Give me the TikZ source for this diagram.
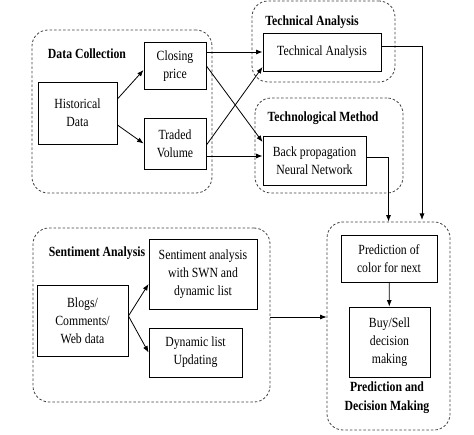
\documentclass[tikz,border=0pt]{standalone}
\usepackage{fontspec}
\setmainfont[FakeStretch=0.84]{Liberation Serif}
\usetikzlibrary{arrows.meta}
\begin{document}
\begin{tikzpicture}[x=1pt,y=-1pt,
  font=\fontsize{14}{18}\selectfont,
  box/.style={draw=black,line width=0.9pt,align=center,inner sep=1pt},
  grp/.style={draw=black!75,dash pattern=on 2.5pt off 2pt,line width=0.8pt,rounded corners=16pt},
  lbl/.style={font=\fontsize{14}{18.5}\selectfont\bfseries,align=center,inner sep=0pt},
  conn/.style={draw=black,line width=0.8pt,-{Latex[length=6.5pt,width=5pt]}}]
\useasboundingbox (0,0) rectangle (474,435);
% groups
\node[grp,minimum width=180pt,minimum height=163pt] (dcg) at (122,111.5) {};
\node[grp,minimum width=143pt,minimum height=81pt] (tag) at (323.5,41.5) {};
\node[grp,minimum width=148pt,minimum height=95pt] (tmg) at (329,145.5) {};
\node[grp,minimum width=237pt,minimum height=174pt] (sag) at (151.5,315) {};
\node[grp,minimum width=123pt,minimum height=208pt] (pdg) at (388.5,326) {};
% labels
\node[lbl] (dcl) at (87,54) {Data Collection};
\node[lbl] (tal) at (312,22) {Technical Analysis};
\node[lbl] (tml) at (323,118) {Technological Method};
\node[lbl] (sal) at (97,253) {Sentiment Analysis};
\node[lbl] (pdl) at (387,397.5) {Prediction and\\Decision Making};
% boxes
\node[box,minimum width=79pt,minimum height=62pt] (hist) at (77.5,113) {Historical\\Data};
\node[box,minimum width=62pt,minimum height=47pt] (close) at (175,66) {Closing\\price};
\node[box,minimum width=62pt,minimum height=51pt] (traded) at (175,143.5) {Traded\\Volume};
\node[box,minimum width=118pt,minimum height=38pt] (ta) at (322,52) {Technical Analysis};
\node[box,minimum width=103pt,minimum height=49pt] (bpnn) at (314.5,160.5) {Back propagation\\Neural Network};
\node[box,minimum width=96pt,minimum height=47pt] (pred) at (389,258.5) {Prediction of\\color for next};
\node[box,minimum width=81pt,minimum height=70pt] (buy) at (389.5,342) {Buy/Sell\\decision\\making};
\node[box,minimum width=108pt,minimum height=70pt] (swn) at (203,274) {Sentiment analysis\\with SWN and\\dynamic list};
\node[box,minimum width=91pt,minimum height=71pt] (blogs) at (82.5,320.5) {Blogs/\\Comments/\\Web data};
\node[box,minimum width=93pt,minimum height=49pt] (dyn) at (195.5,352.5) {Dynamic list\\Updating};
\coordinate (tadown) at (422,220);
% connectors
\draw[conn] ([yshift=14pt]hist.east) -- ([yshift=-4pt]close.west);
\draw[conn] ([yshift=-12pt]hist.east) -- (traded.west);
\draw[conn] ([yshift=14pt]close.east) -- (ta.west);
\draw[conn] (close.east) -- ([yshift=18.5pt]bpnn.west);
\draw[conn] ([yshift=-1.5pt]traded.east) -- ([yshift=-15pt]ta.west);
\draw[conn] ([yshift=-12.5pt]traded.east) -- ([yshift=4.5pt]bpnn.west);
\draw[conn] ([yshift=6pt]ta.east) -| (tadown);
\draw[conn] ([yshift=3.5pt]bpnn.east) -| (pdg.north);
\draw[conn] (pred) -- (buy);
\draw[conn] ([yshift=4.5pt]blogs.east) -- ([yshift=-10pt]swn.west);
\draw[conn] ([yshift=4.5pt]blogs.east) -- (dyn.west);
\draw[conn] ([yshift=-2pt]sag.east) -- ([yshift=-2pt]sag.east -| pdg.west);
\end{tikzpicture}
\end{document}
